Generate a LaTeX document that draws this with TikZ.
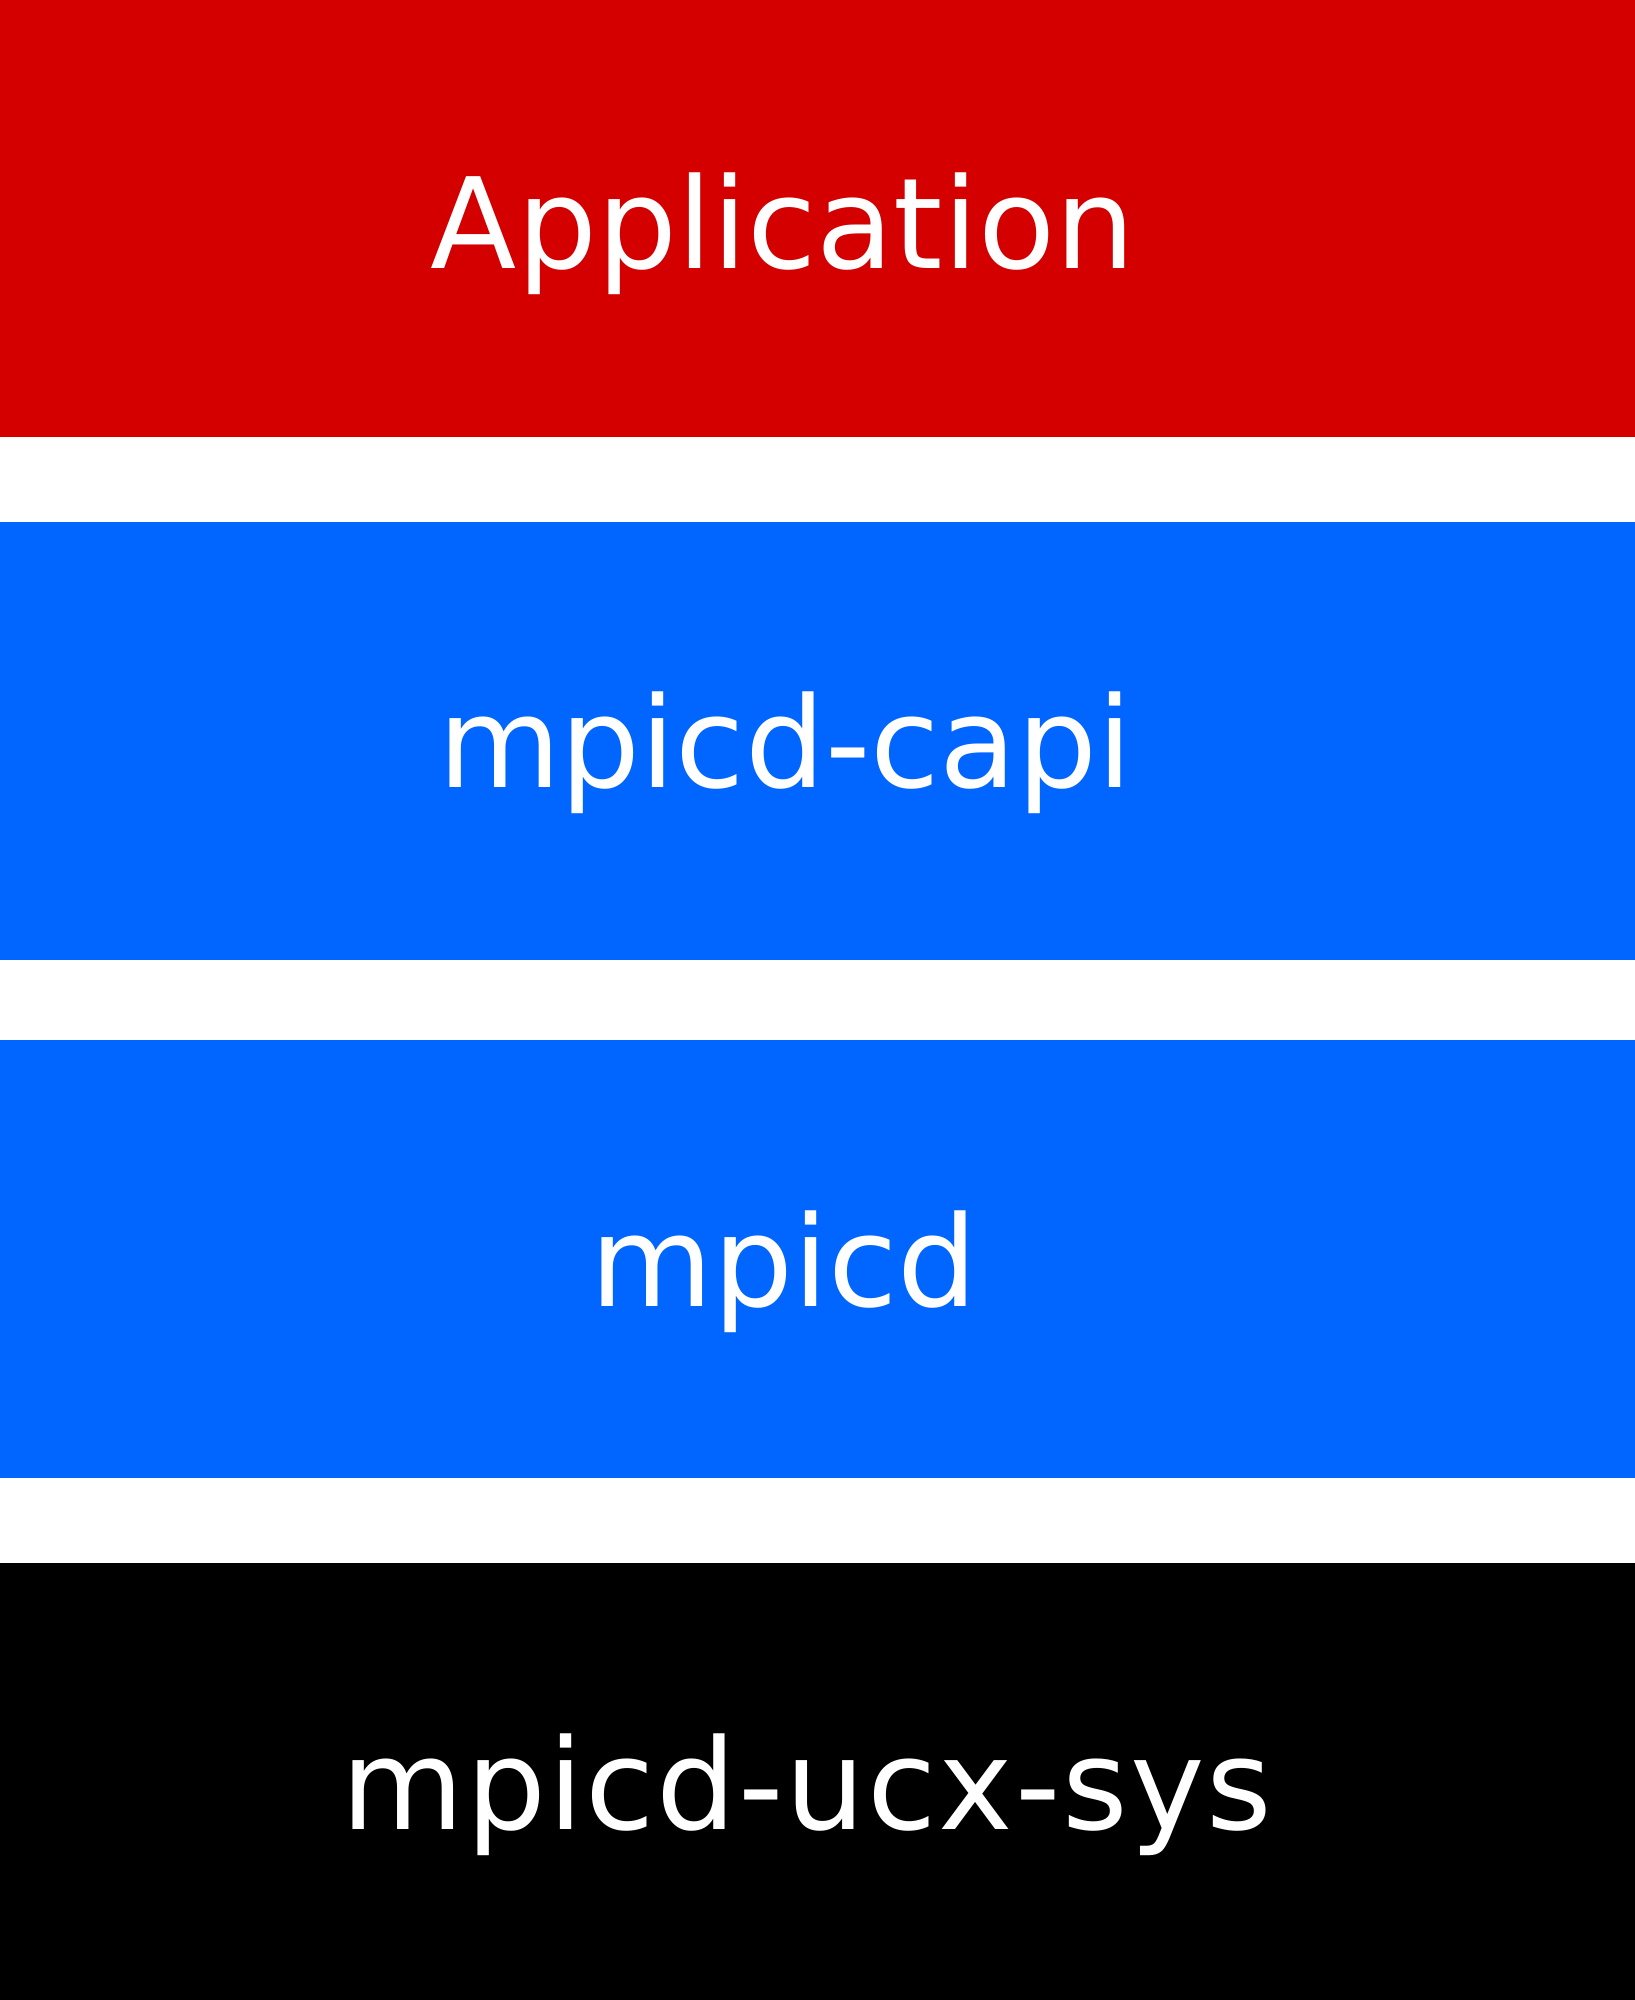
\documentclass[tikz,border=0pt]{standalone}
\usepackage{fontspec}
\setmainfont{DejaVu Sans}
\definecolor{appred}{HTML}{D40000}
\definecolor{libblue}{HTML}{0066FF}
\begin{document}
\begin{tikzpicture}[x=1pt,y=-1pt,
  lbl/.style={text=white,inner sep=0pt,anchor=base,font=\fontsize{126}{150}\selectfont}]
\useasboundingbox (0,0) rectangle (1635,2000);
\fill[white] (0,0) rectangle (1635,2000);
\fill[appred] (0,0) rectangle (1635,437);
\fill[libblue] (0,522) rectangle (1635,960);
\fill[libblue] (0,1040) rectangle (1635,1478);
\fill[black] (0,1563) rectangle (1635,2000);
\node[lbl] (app) at (783,268) {Application};
\node[lbl] (capi) at (785,787) {mpicd-capi};
\node[lbl] (mpicd) at (784,1306) {mpicd};
\node[lbl] (ucx) at (807,1829) {\addfontfeatures{LetterSpace=1.5}mpicd-ucx-sys};
\end{tikzpicture}
\end{document}
